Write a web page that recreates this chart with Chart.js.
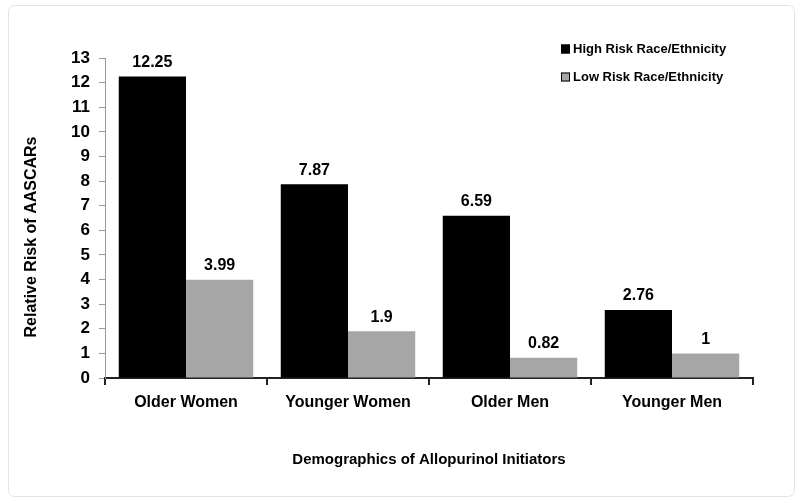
<!DOCTYPE html>
<html>
<head>
<meta charset="utf-8">
<script src="https://cdn.jsdelivr.net/npm/chart.js@4/dist/chart.umd.min.js"></script>
<style>
  html, body { margin: 0; padding: 0; background: #fff; }
  #wrap { position: relative; width: 800px; height: 503px; }
</style>
</head>
<body>
<div id="wrap"><canvas id="chart" width="800" height="503"></canvas></div>
<script>
"use strict";

// Chart data
var categories = ['Older Women', 'Younger Women', 'Older Men', 'Younger Men'];
var highRisk = [12.25, 7.87, 6.59, 2.76];
var lowRisk = [3.99, 1.9, 0.82, 1];
var highLabels = ['12.25', '7.87', '6.59', '2.76'];
var lowLabels = ['3.99', '1.9', '0.82', '1'];
var seriesNames = ['High Risk Race/Ethnicity', 'Low Risk Race/Ethnicity'];
var yTitle = 'Relative Risk of AASCARs';
var xTitle = 'Demographics of Allopurinol Initiators';

var FONT = '"Liberation Sans", Arial, sans-serif';

// Light rounded frame around the picture
var framePlugin = {
    id: 'frame',
    beforeDraw: function (chart) {
        var ctx = chart.ctx;
        ctx.save();
        ctx.strokeStyle = '#e2e2e2';
        ctx.lineWidth = 1;
        ctx.beginPath();
        ctx.roundRect(8.5, 5.5, 786, 491, 6);
        ctx.stroke();
        ctx.restore();
    }
};

// Values above the bars
var valueLabels = {
    id: 'valueLabels',
    afterDatasetsDraw: function (chart) {
        var ctx = chart.ctx;
        var texts = [highLabels, lowLabels];
        ctx.save();
        ctx.font = 'bold 16px ' + FONT;
        ctx.fillStyle = '#000';
        ctx.textAlign = 'center';
        ctx.textBaseline = 'bottom';
        chart.data.datasets.forEach(function (ds, i) {
            chart.getDatasetMeta(i).data.forEach(function (bar, j) {
                ctx.fillText(texts[i][j], bar.x, bar.y - 6);
            });
        });
        ctx.restore();
    }
};

// Y title sits a bit below the middle of the axis, like the original
var yTitlePlugin = {
    id: 'yTitle',
    afterDraw: function (chart) {
        var ctx = chart.ctx;
        ctx.save();
        ctx.translate(32, 237);
        ctx.rotate(-Math.PI / 2);
        ctx.font = 'bold 16px ' + FONT;
        ctx.fillStyle = '#000';
        ctx.textAlign = 'center';
        ctx.textBaseline = 'middle';
        ctx.fillText(yTitle, 0, 0);
        ctx.restore();
    }
};

// Legend stacked in the top right corner
var cornerLegend = {
    id: 'cornerLegend',
    afterDraw: function (chart) {
        var ctx = chart.ctx;
        var x = 561, y = 49;
        ctx.save();
        ctx.font = 'bold 13px ' + FONT;
        ctx.textBaseline = 'middle';
        chart.data.datasets.forEach(function (ds, i) {
            var yy = y + i * 28;
            ctx.fillStyle = ds.backgroundColor;
            ctx.fillRect(x, yy - 4.5, 9, 9);
            ctx.strokeStyle = '#000';
            ctx.lineWidth = 1;
            ctx.strokeRect(x + 0.5, yy - 4, 8, 8);
            ctx.fillStyle = '#000';
            ctx.fillText(ds.label, x + 12, yy);
        });
        ctx.restore();
    }
};

new Chart(document.getElementById('chart').getContext('2d'), {
    type: 'bar',
    data: {
        labels: categories,
        datasets: [{
            label: seriesNames[0],
            data: highRisk,
            backgroundColor: '#000000',
            categoryPercentage: 0.83,
            barPercentage: 1.0
        }, {
            label: seriesNames[1],
            data: lowRisk,
            backgroundColor: '#a6a6a6',
            categoryPercentage: 0.83,
            barPercentage: 1.0
        }]
    },
    options: {
        responsive: false,
        animation: false,
        layout: {
            padding: { top: 58, right: 47, bottom: 30, left: 50 }
        },
        scales: {
            x: {
                grid: {
                    offset: true,
                    drawOnChartArea: false,
                    tickLength: 7,
                    color: '#222',
                    lineWidth: 2
                },
                border: { color: '#222', width: 2 },
                ticks: {
                    color: '#000',
                    font: { family: FONT, size: 16, weight: 'bold' },
                    padding: 8
                },
                title: {
                    display: true,
                    text: xTitle,
                    color: '#000',
                    font: { family: FONT, size: 15, weight: 'bold' },
                    padding: { top: 14 }
                },
                afterFit: function (s) { s.height = 95; }
            },
            y: {
                min: 0,
                max: 13,
                grid: {
                    drawOnChartArea: false,
                    tickLength: 6,
                    color: '#999'
                },
                border: { color: '#999' },
                ticks: {
                    stepSize: 1,
                    color: '#000',
                    font: { family: FONT, size: 17, weight: 'bold' },
                    padding: 9
                },
                afterFit: function (s) { s.width = 55; }
            }
        },
        plugins: {
            legend: { display: false },
            tooltip: { enabled: false }
        }
    },
    plugins: [framePlugin, valueLabels, yTitlePlugin, cornerLegend]
});
</script>
</body>
</html>
